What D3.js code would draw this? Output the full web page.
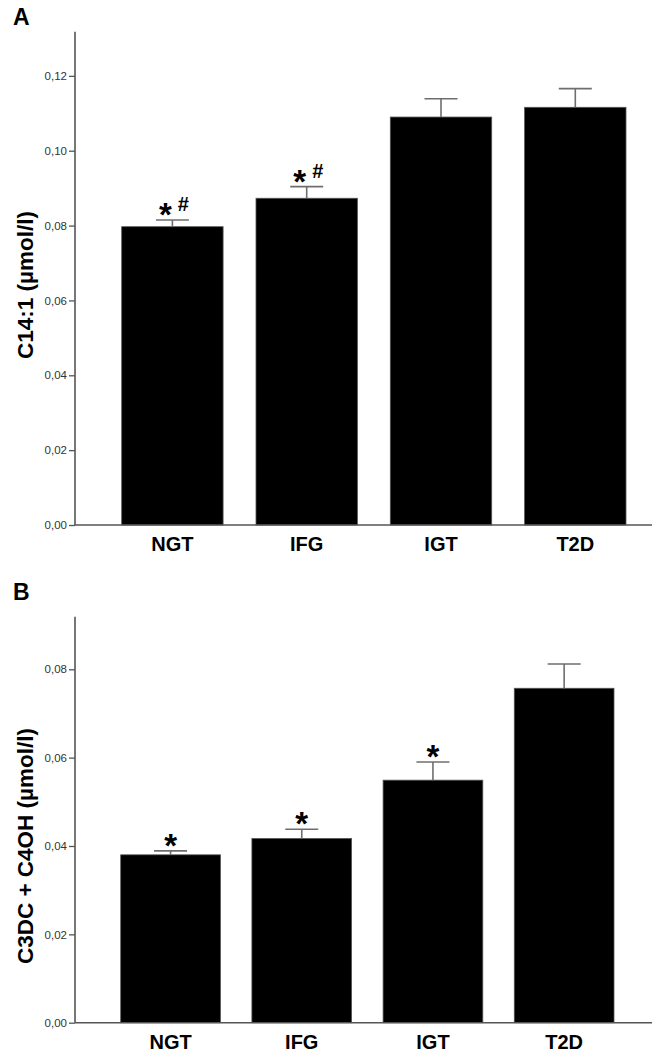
<!DOCTYPE html>
<html>
<head>
<meta charset="utf-8">
<script src="https://cdn.jsdelivr.net/npm/d3@7"></script>
<style>
  html, body { margin: 0; padding: 0; background: #fff; }
  svg { display: block; }
  text { font-family: "Liberation Sans", Arial, sans-serif; }
</style>
</head>
<body>
<svg id="chart" width="661" height="1057"></svg>
<script>
// ---- data ----
const categories = ["NGT", "IFG", "IGT", "T2D"];

const c141Means = [0.0797, 0.0873, 0.1090, 0.1116];
const c141Upper = [0.0815, 0.0904, 0.1139, 0.1166];
const c141Marks = [["*", "#"], ["*", "#"], [], []];
const c141Ticks = [0.00, 0.02, 0.04, 0.06, 0.08, 0.10, 0.12];

const c3dcMeans = [0.0380, 0.0417, 0.0549, 0.0757];
const c3dcUpper = [0.0389, 0.0438, 0.0590, 0.0812];
const c3dcMarks = [["*"], ["*"], ["*"], []];
const c3dcTicks = [0.00, 0.02, 0.04, 0.06, 0.08];

const panels = [
  { letter: "A", ylabel: "C14:1 (µmol/l)", means: c141Means, upper: c141Upper, marks: c141Marks,
    ticks: c141Ticks, yMax: 0.1318, top: 31.7, bottom: 525, xRange: [121.7, 626], pad: 0.245,
    letterY: 25, labelY: 285 },
  { letter: "B", ylabel: "C3DC + C4OH (µmol/l)", means: c3dcMeans, upper: c3dcUpper, marks: c3dcMarks,
    ticks: c3dcTicks, yMax: 0.0919, top: 616.7, bottom: 1022.7, xRange: [120.7, 614], pad: 0.24,
    letterY: 600, labelY: 846 }
];

const svg = d3.select("#chart");
const axisX0 = 75, axisX1 = 652;
const fmt = d => d3.format(".2f")(d).replace(".", ",");

panels.forEach(p => {
  const g = svg.append("g");
  const y = d3.scaleLinear().domain([0, p.yMax]).range([p.bottom, p.top]);
  const x = d3.scaleBand().domain(categories).range(p.xRange).paddingInner(p.pad).paddingOuter(0);

  // bars
  g.selectAll("rect.bar").data(categories).enter().append("rect")
    .attr("class", "bar")
    .attr("x", d => x(d))
    .attr("width", x.bandwidth())
    .attr("y", (d, i) => y(p.means[i]))
    .attr("height", (d, i) => y(0) - y(p.means[i]))
    .attr("fill", "#000")
    .attr("stroke", "#555")
    .attr("stroke-width", 0.8);

  // error bars
  const cap = 33;
  categories.forEach((c, i) => {
    const cx = x(c) + x.bandwidth() / 2;
    g.append("line").attr("x1", cx).attr("x2", cx)
      .attr("y1", y(p.means[i])).attr("y2", y(p.upper[i]))
      .attr("stroke", "#6e6e6e").attr("stroke-width", 1.6);
    g.append("line").attr("x1", cx - cap / 2).attr("x2", cx + cap / 2)
      .attr("y1", y(p.upper[i])).attr("y2", y(p.upper[i]))
      .attr("stroke", "#6e6e6e").attr("stroke-width", 1.6);

    const m = p.marks[i];
    if (m.length === 2) {
      g.append("text").attr("x", cx - 7).attr("y", y(p.upper[i]) + 6)
        .attr("text-anchor", "middle").attr("font-size", 33).attr("font-weight", "bold").text(m[0]);
      g.append("text").attr("x", cx + 11).attr("y", y(p.upper[i]) - 9)
        .attr("text-anchor", "middle").attr("font-size", 20).attr("font-weight", "bold").text(m[1]);
    } else if (m.length === 1) {
      g.append("text").attr("x", cx).attr("y", y(p.upper[i]) + 6)
        .attr("text-anchor", "middle").attr("font-size", 33).attr("font-weight", "bold").text(m[0]);
    }
  });

  // y axis
  const yAxis = d3.axisLeft(y).tickValues(p.ticks).tickFormat(fmt).tickSize(6).tickPadding(2);
  const ya = g.append("g").attr("transform", `translate(${axisX0},0)`).call(yAxis);
  ya.select(".domain").remove();
  ya.selectAll(".tick line").attr("stroke", "#555").attr("stroke-width", 1.3);
  ya.selectAll(".tick text").attr("font-size", 11.5).attr("fill", "#333")
    .attr("font-family", "'Liberation Sans', Arial, sans-serif");
  g.append("line").attr("x1", axisX0).attr("x2", axisX0).attr("y1", p.top).attr("y2", p.bottom)
    .attr("stroke", "#555").attr("stroke-width", 1.6);

  // x axis
  g.append("line").attr("x1", axisX0).attr("x2", axisX1).attr("y1", p.bottom).attr("y2", p.bottom)
    .attr("stroke", "#555").attr("stroke-width", 1.6);
  g.selectAll("text.cat").data(categories).enter().append("text")
    .attr("class", "cat")
    .attr("x", d => x(d) + x.bandwidth() / 2)
    .attr("y", p.bottom + 26)
    .attr("text-anchor", "middle")
    .attr("font-size", 20).attr("font-weight", "bold").attr("fill", "#000")
    .text(d => d);

  // y label
  g.append("text")
    .attr("transform", `translate(33,${p.labelY}) rotate(-90)`)
    .attr("text-anchor", "middle")
    .attr("font-size", 22.5).attr("font-weight", "bold")
    .text(p.ylabel);

  // panel letter
  g.append("text").attr("x", 13).attr("y", p.letterY)
    .attr("font-size", 23).attr("font-weight", "bold").text(p.letter);
});
</script>
</body>
</html>
